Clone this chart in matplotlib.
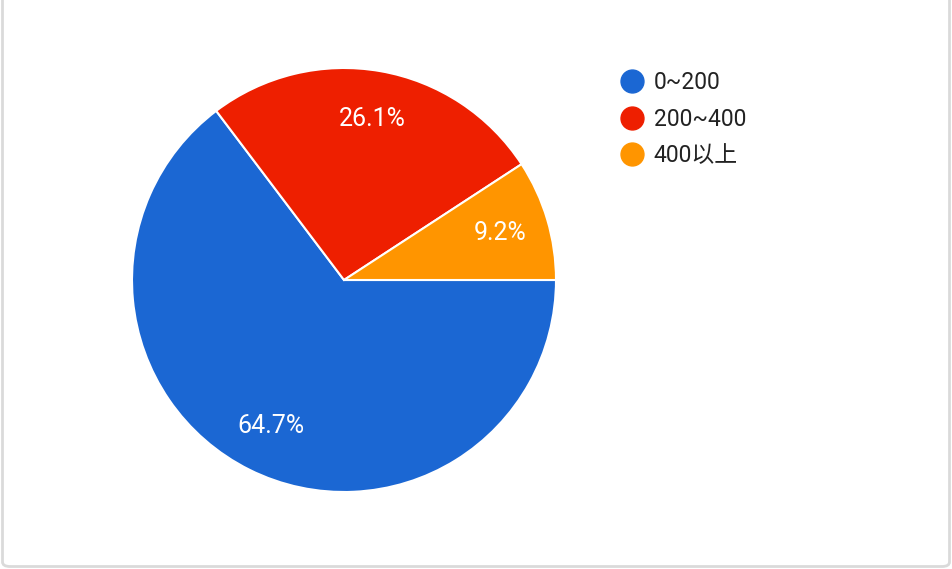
import matplotlib
import matplotlib.pyplot as plt
from matplotlib.lines import Line2D
from matplotlib.patches import FancyBboxPatch

matplotlib.use('agg')

plt.rcParams['font.family'] = ['Roboto', 'Noto Sans CJK SC', 'DejaVu Sans']

labels = ['0~200', '200~400', '400以上']
shares = [64.7, 26.1, 9.2]
colors = ['#1b67d3', '#ee1f00', '#ff9500']

W, H = 952, 569
fig = plt.figure(figsize=(W / 100, H / 100), dpi=100)

# card border, kept behind the pie
card = FancyBboxPatch((2.5 / W, 2.5 / H), (W - 5) / W, (H + 20) / H,
                      boxstyle='round,pad=0,rounding_size=0.008',
                      transform=fig.transFigure, facecolor='white',
                      edgecolor='#dadada', linewidth=2, zorder=-5)
fig.patches.append(card)

# pie centre (344, 280) px, radius 212 px
cx, cy, r = 344, 280, 212
ax = fig.add_axes([(cx - r) / W, (H - cy - r) / H, 2 * r / W, 2 * r / H])
ax.patch.set_visible(False)
wedges, texts, autotexts = ax.pie(
    shares, colors=colors, startangle=0, counterclock=False,
    autopct='%.1f%%', pctdistance=0.77,
    wedgeprops={'edgecolor': 'white', 'linewidth': 1.5},
    textprops={'color': 'white', 'fontsize': 18})
ax.set_xlim(-1.0, 1.0)
ax.set_ylim(-1.0, 1.0)
ax.set_aspect('equal')
ax.axis('off')

handles = [Line2D([], [], marker='o', linestyle='none', markersize=16.5,
                  markerfacecolor=c, markeredgecolor=c) for c in colors]
fig.legend(handles, labels, loc='upper left',
           bbox_to_anchor=(609 / W, 1 - 60 / H), frameon=False,
           fontsize=16.5, labelcolor='#222222', handlelength=1.0,
           handletextpad=0.45, labelspacing=0.59, borderpad=0)

fig.savefig('out.png', dpi=100)
